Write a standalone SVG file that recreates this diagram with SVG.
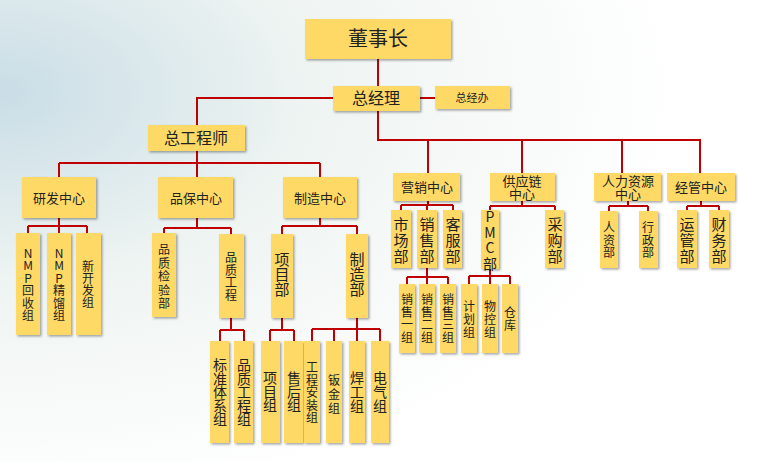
<svg xmlns="http://www.w3.org/2000/svg" width="760" height="462" viewBox="0 0 760 462">
<defs>
<radialGradient id="bg" cx="0" cy="0.2" r="0.9">
<stop offset="0" stop-color="#c9dde6"/><stop offset="0.45" stop-color="#eef4f2"/><stop offset="1" stop-color="#ffffff"/>
</radialGradient>
<filter id="sh" x="-20%" y="-20%" width="150%" height="150%"><feDropShadow dx="1.5" dy="1.5" stdDeviation="1" flood-color="#000" flood-opacity="0.35"/></filter>
</defs>
<style>
.b{fill:#FFD966;filter:url(#sh)}
.c{fill:none;stroke:#C00000;stroke-width:2}
text{font-family:"Noto Sans CJK SC","Liberation Sans",sans-serif;fill:#222;text-anchor:middle}
</style>
<rect width="760" height="462" fill="url(#bg)"/>
<g id="connectors" class="c">
<path d="M378 59V86M333 98H197V125M420 98H435M378 111V140H700V173M428 140V173M522 140V173M622 140V173"/>
<path d="M197 151V163M59 163H320M59 163V177M197 163V177M320 163V177"/>
<path d="M59 218V226M28 226H87M28 226V233M59 226V233M87 226V233"/>
<path d="M197 218V228M164 228H231M164 228V233M231 228V234"/>
<path d="M320 218V226M282 226H357M282 226V234M357 226V234"/>
<path d="M231 318V330M220 330H244M220 330V341M244 330V341"/>
<path d="M282 318V330M270 330H294M270 330V341M294 330V341"/>
<path d="M357 318V329M312 329H380M312 329V341M334 329V341M357 329V341M380 329V341"/>
<path d="M428 201V205M401 205H453M401 205V210M427 205V210M453 205V210"/>
<path d="M427 268V277M407 277H448M407 277V284M427 277V284M448 277V284"/>
<path d="M522 201V206M490 206H555M490 206V210M555 206V210"/>
<path d="M490 269V276M469 276H510M469 276V284M490 276V284M510 276V284"/>
<path d="M628 201V206M609 206H648M609 206V211M648 206V211"/>
<path d="M701 201V206M687 206H719M687 206V210M719 206V210"/>
</g>
<g id="n-dsz"><rect class="b" x="305" y="19" width="146" height="40"/><text x="378" y="46" font-size="20">董事长</text></g>
<g id="n-zjl"><rect class="b" x="333" y="86" width="87" height="25"/><text x="376" y="104" font-size="16">总经理</text></g>
<g id="n-zjb"><rect class="b" x="435" y="86" width="75" height="23"/><text x="472" y="102" font-size="11">总经办</text></g>
<g id="n-zgcs"><rect class="b" x="148" y="125" width="97" height="26"/><text x="196" y="144" font-size="16">总工程师</text></g>
<g id="n-yf"><rect class="b" x="22" y="177" width="74" height="41"/><text x="59" y="203" font-size="13">研发中心</text></g>
<g id="n-pb"><rect class="b" x="158" y="177" width="75" height="41"/><text x="196" y="203" font-size="13">品保中心</text></g>
<g id="n-zz"><rect class="b" x="283" y="177" width="74" height="41"/><text x="320" y="203" font-size="13">制造中心</text></g>
<g id="n-yx"><rect class="b" x="393" y="173" width="67" height="28"/><text x="427" y="192" font-size="13">营销中心</text></g>
<g id="n-gyl"><rect class="b" x="490" y="173" width="65" height="28"/><text x="522" y="186" font-size="13">供应链<tspan x="522" dy="13">中心</tspan></text></g>
<g id="n-rl"><rect class="b" x="594" y="173" width="67" height="28"/><text x="628" y="186" font-size="13">人力资源<tspan x="628" dy="13">中心</tspan></text></g>
<g id="n-jg"><rect class="b" x="667" y="173" width="68" height="28"/><text x="701" y="192" font-size="13">经管中心</text></g>

<g id="n-nmp1"><rect class="b" x="16" y="233" width="24" height="102"/><text x="28" y="258" font-size="12">N<tspan x="28" dy="12.4">M</tspan><tspan x="28" dy="12.4">P</tspan><tspan x="28" dy="12.4">回</tspan><tspan x="28" dy="12.4">收</tspan><tspan x="28" dy="12.4">组</tspan></text></g>
<g id="n-nmp2"><rect class="b" x="47" y="233" width="24" height="102"/><text x="59" y="258" font-size="12">N<tspan x="59" dy="12.4">M</tspan><tspan x="59" dy="12.4">P</tspan><tspan x="59" dy="12.4">精</tspan><tspan x="59" dy="12.4">馏</tspan><tspan x="59" dy="12.4">组</tspan></text></g>
<g id="n-xkf"><rect class="b" x="76" y="233" width="25" height="102"/><text x="88" y="271" font-size="12">新<tspan x="88" dy="12">开</tspan><tspan x="88" dy="12">发</tspan><tspan x="88" dy="12">组</tspan></text></g>
<g id="n-pzjy"><rect class="b" x="152" y="233" width="24" height="84"/><text x="164" y="254" font-size="12">品<tspan x="164" dy="13.5">质</tspan><tspan x="164" dy="13.5">检</tspan><tspan x="164" dy="13.5">验</tspan><tspan x="164" dy="13.5">部</tspan></text></g>
<g id="n-pzgc"><rect class="b" x="219" y="234" width="25" height="84"/><text x="231" y="262" font-size="12">品<tspan x="231" dy="12.5">质</tspan><tspan x="231" dy="12.5">工</tspan><tspan x="231" dy="12.5">程</tspan></text></g>
<g id="n-xmb"><rect class="b" x="271" y="234" width="22" height="84"/><text x="282" y="265" font-size="15">项<tspan x="282" dy="15">目</tspan><tspan x="282" dy="15">部</tspan></text></g>
<g id="n-zzb"><rect class="b" x="346" y="234" width="22" height="84"/><text x="357" y="265" font-size="15">制<tspan x="357" dy="15">造</tspan><tspan x="357" dy="15">部</tspan></text></g>

<g id="n-bztx"><rect class="b" x="210" y="341" width="19" height="102"/><text x="220" y="370" font-size="14">标<tspan x="220" dy="13.5">准</tspan><tspan x="220" dy="13.5">体</tspan><tspan x="220" dy="13.5">系</tspan><tspan x="220" dy="13.5">组</tspan></text></g>
<g id="n-pzgcz"><rect class="b" x="234" y="341" width="19" height="102"/><text x="244" y="370" font-size="14">品<tspan x="244" dy="13.5">质</tspan><tspan x="244" dy="13.5">工</tspan><tspan x="244" dy="13.5">程</tspan><tspan x="244" dy="13.5">组</tspan></text></g>
<g id="n-xmz"><rect class="b" x="261" y="341" width="19" height="102"/><text x="270" y="383" font-size="14">项<tspan x="270" dy="13.5">目</tspan><tspan x="270" dy="13.5">组</tspan></text></g>
<g id="n-shz"><rect class="b" x="284" y="341" width="19" height="102"/><text x="294" y="383" font-size="14">售<tspan x="294" dy="13.5">后</tspan><tspan x="294" dy="13.5">组</tspan></text></g>
<g id="n-gcaz"><rect class="b" x="304" y="341" width="16" height="102"/><text x="312" y="372" font-size="12">工<tspan x="312" dy="12.5">程</tspan><tspan x="312" dy="12.5">安</tspan><tspan x="312" dy="12.5">装</tspan><tspan x="312" dy="12.5">组</tspan></text></g>
<g id="n-bjz"><rect class="b" x="326" y="341" width="16" height="102"/><text x="334" y="385" font-size="12">钣<tspan x="334" dy="14">金</tspan><tspan x="334" dy="14">组</tspan></text></g>
<g id="n-hgz"><rect class="b" x="349" y="341" width="16" height="102"/><text x="357" y="383" font-size="14">焊<tspan x="357" dy="14">工</tspan><tspan x="357" dy="14">组</tspan></text></g>
<g id="n-dqz"><rect class="b" x="371" y="341" width="18" height="102"/><text x="380" y="383" font-size="14">电<tspan x="380" dy="14">气</tspan><tspan x="380" dy="14">组</tspan></text></g>

<g id="n-scb"><rect class="b" x="391" y="210" width="20" height="58"/><text x="401" y="230" font-size="15">市<tspan x="401" dy="16">场</tspan><tspan x="401" dy="16">部</tspan></text></g>
<g id="n-xsb"><rect class="b" x="417" y="210" width="20" height="58"/><text x="427" y="230" font-size="15">销<tspan x="427" dy="16">售</tspan><tspan x="427" dy="16">部</tspan></text></g>
<g id="n-kfb"><rect class="b" x="443" y="210" width="19" height="58"/><text x="453" y="230" font-size="15">客<tspan x="453" dy="16">服</tspan><tspan x="453" dy="16">部</tspan></text></g>
<g id="n-xs1"><rect class="b" x="399" y="284" width="16" height="69"/><text x="407" y="304" font-size="12">销<tspan x="407" dy="12.5">售</tspan><tspan x="407" dy="12.5">一</tspan><tspan x="407" dy="12.5">组</tspan></text></g>
<g id="n-xs2"><rect class="b" x="419" y="284" width="16" height="69"/><text x="427" y="304" font-size="12">销<tspan x="427" dy="12.5">售</tspan><tspan x="427" dy="12.5">二</tspan><tspan x="427" dy="12.5">组</tspan></text></g>
<g id="n-xs3"><rect class="b" x="440" y="284" width="16" height="69"/><text x="448" y="304" font-size="12">销<tspan x="448" dy="12.5">售</tspan><tspan x="448" dy="12.5">三</tspan><tspan x="448" dy="12.5">组</tspan></text></g>
<g id="n-pmc"><rect class="b" x="481" y="210" width="18" height="59"/><text x="490" y="222" font-size="14">P<tspan x="490" dy="15.5">M</tspan><tspan x="490" dy="15.5">C</tspan><tspan x="490" dy="15.5">部</tspan></text></g>
<g id="n-cgb"><rect class="b" x="545" y="210" width="19" height="58"/><text x="555" y="230" font-size="15">采<tspan x="555" dy="16">购</tspan><tspan x="555" dy="16">部</tspan></text></g>
<g id="n-jhz"><rect class="b" x="461" y="284" width="16" height="69"/><text x="469" y="311" font-size="12">计<tspan x="469" dy="13">划</tspan><tspan x="469" dy="13">组</tspan></text></g>
<g id="n-wkz"><rect class="b" x="482" y="284" width="16" height="69"/><text x="490" y="311" font-size="12">物<tspan x="490" dy="13">控</tspan><tspan x="490" dy="13">组</tspan></text></g>
<g id="n-ck"><rect class="b" x="502" y="284" width="16" height="69"/><text x="510" y="317" font-size="12">仓<tspan x="510" dy="13">库</tspan></text></g>
<g id="n-rzb"><rect class="b" x="600" y="211" width="18" height="57"/><text x="609" y="232" font-size="12">人<tspan x="609" dy="12.5">资</tspan><tspan x="609" dy="12.5">部</tspan></text></g>
<g id="n-xzb"><rect class="b" x="639" y="211" width="19" height="57"/><text x="648" y="232" font-size="12">行<tspan x="648" dy="12.5">政</tspan><tspan x="648" dy="12.5">部</tspan></text></g>
<g id="n-ygb"><rect class="b" x="677" y="210" width="20" height="58"/><text x="687" y="230" font-size="15">运<tspan x="687" dy="16">管</tspan><tspan x="687" dy="16">部</tspan></text></g>
<g id="n-cwb"><rect class="b" x="709" y="210" width="20" height="58"/><text x="719" y="230" font-size="15">财<tspan x="719" dy="16">务</tspan><tspan x="719" dy="16">部</tspan></text></g>
</svg>
